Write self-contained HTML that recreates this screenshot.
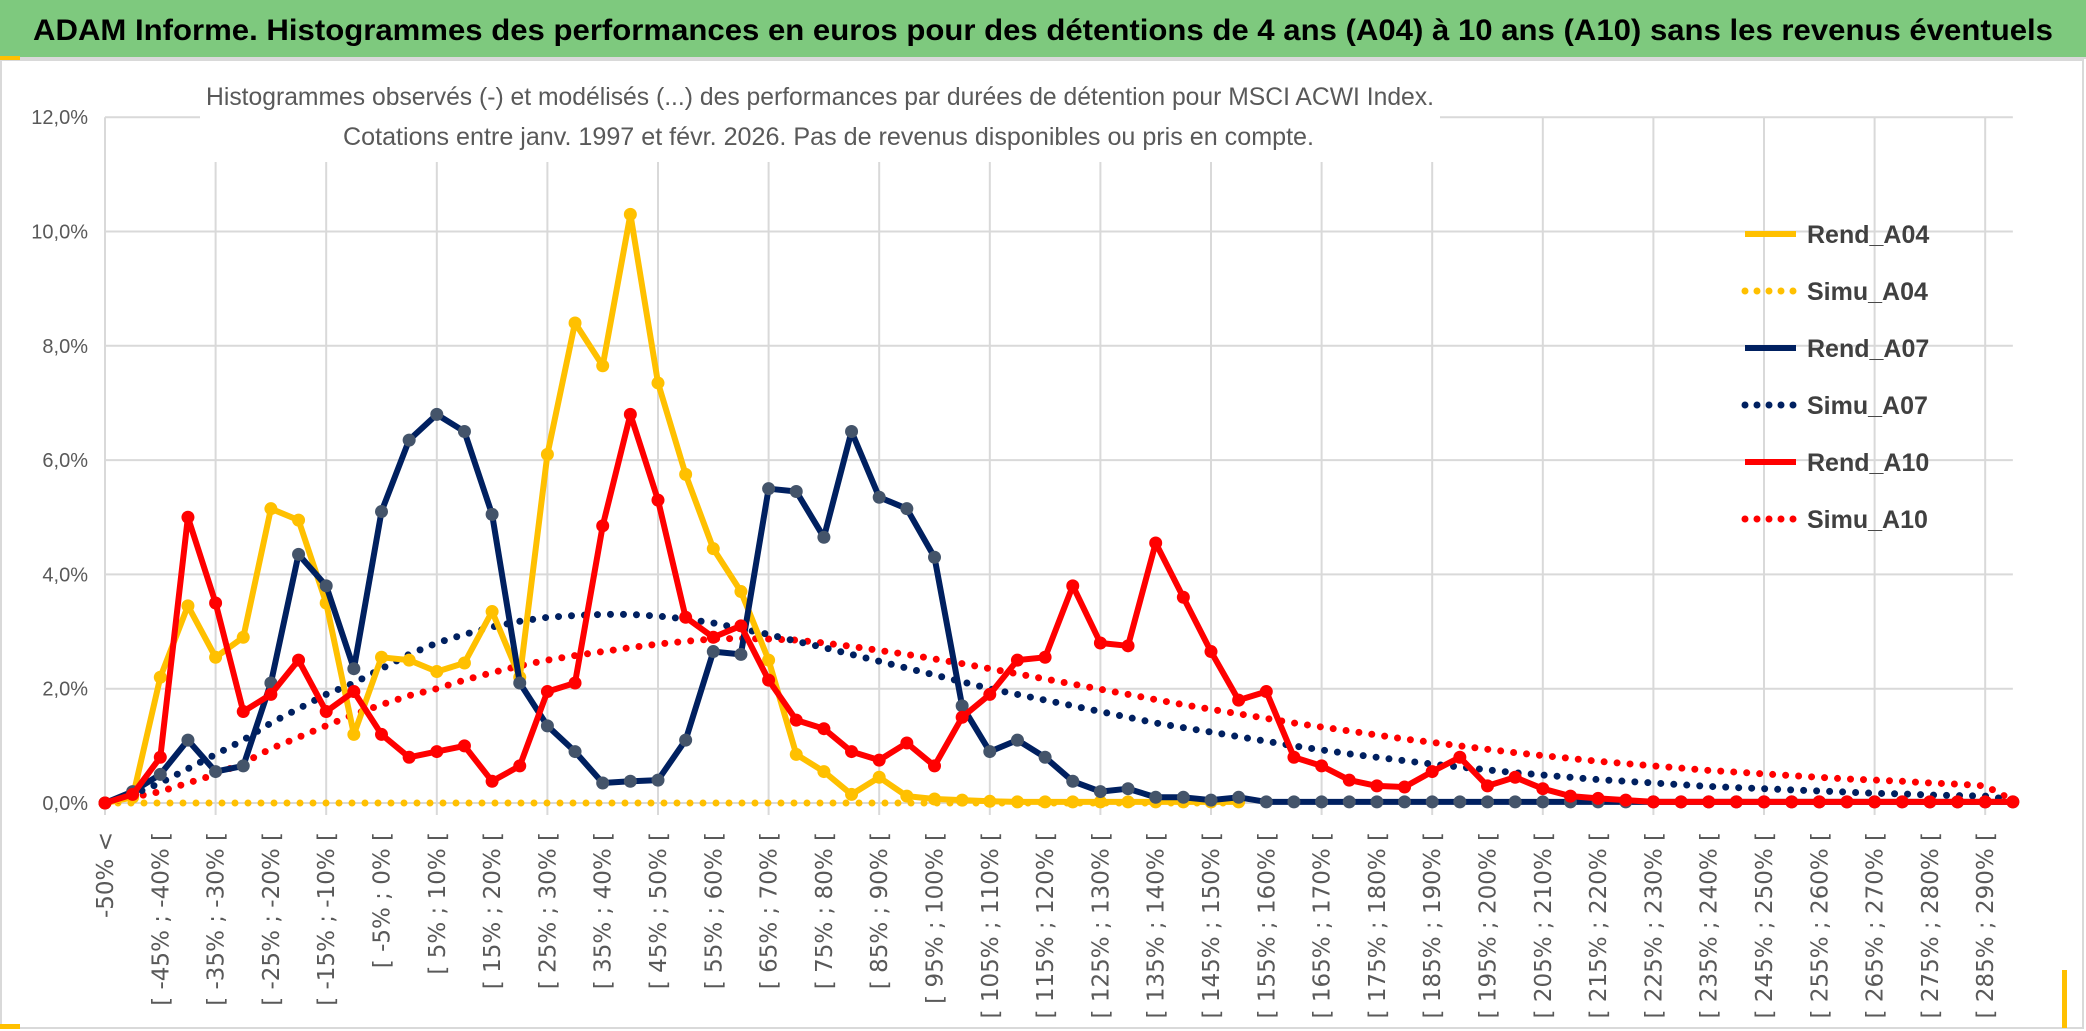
<!DOCTYPE html>
<html><head><meta charset="utf-8"><style>
html,body{margin:0;padding:0;background:#fff;}
svg{display:block;}
</style></head><body>
<svg id="chart" width="2086" height="1031" viewBox="0 0 2086 1031" xmlns="http://www.w3.org/2000/svg" font-family="'Liberation Sans Narrow','Liberation Sans',sans-serif">
<rect x="0" y="0" width="2086" height="1031" fill="#fff"/>
<rect x="0" y="0" width="2086" height="57" fill="#7ec97e"/>
<line x1="0" y1="58" x2="2086" y2="58" stroke="#d9d9d9" stroke-width="2"/>
<text x="33" y="40" font-size="30" font-weight="bold" fill="#000" textLength="2020" lengthAdjust="spacingAndGlyphs">ADAM Informe. Histogrammes des performances en euros pour des détentions de 4 ans (A04) à 10 ans (A10) sans les revenus éventuels</text>
<rect x="1" y="60" width="2082" height="968" fill="none" stroke="#d9d9d9" stroke-width="2"/>
<g id="grid"></g>
<rect x="200" y="72" width="1240" height="90" fill="#fff"/>
<text x="206" y="105" font-size="25" fill="#595959" textLength="1228" lengthAdjust="spacingAndGlyphs">Histogrammes observés (-) et modélisés (...) des performances par durées de détention pour MSCI ACWI Index.</text>
<text x="343" y="145" font-size="25" fill="#595959" textLength="971" lengthAdjust="spacingAndGlyphs">Cotations entre janv. 1997 et févr. 2026. Pas de revenus disponibles ou pris en compte.</text>
<g id="series"></g>
<g id="xlabels"></g>
<g id="legend"></g>
<rect x="0" y="56" width="20" height="4" fill="#ffc000"/>
<rect x="0" y="1024" width="20" height="5" fill="#ffc000"/>
<rect x="2062" y="970" width="5" height="58" fill="#ffc000"/>
</svg>
<script>
const yTicks = [0,2,4,6,8,10,12];
const yTickLabels = ["0,0%","2,0%","4,0%","6,0%","8,0%","10,0%","12,0%"];
const rendA04 = [0,0.1,2.2,3.45,2.55,2.9,5.15,4.95,3.5,1.2,2.55,2.5,2.3,2.45,3.35,2.2,6.1,8.4,7.65,10.3,7.35,5.75,4.45,3.7,2.5,0.85,0.55,0.15,0.45,0.12,0.07,0.05,0.03,0.02,0.02,0.02,0.02,0.02,0.02,0.02,0.02,0.02];
const simuA04 = [0,0,0,0,0,0,0,0,0,0,0,0,0,0,0,0,0,0,0,0,0,0,0,0,0,0,0,0,0,0,0,0,0,0,0,0,0,0,0,0,0,0];
const rendA07 = [0,0.2,0.5,1.1,0.55,0.65,2.1,4.35,3.8,2.35,5.1,6.35,6.8,6.5,5.05,2.1,1.35,0.9,0.35,0.38,0.4,1.1,2.65,2.6,5.5,5.45,4.65,6.5,5.35,5.15,4.3,1.7,0.9,1.1,0.8,0.38,0.2,0.25,0.1,0.1,0.05,0.1,0.02,0.02,0.02,0.02,0.02,0.02,0.02,0.02,0.02,0.02,0.02,0.02,0.02,0.02,0.02,0.02,0.02,0.02,0.02,0.02,0.02,0.02,0.02,0.02,0.02,0.02,0.02,0.02];
const simuA07 = [0,0.15,0.35,0.6,0.85,1.1,1.4,1.65,1.9,2.1,2.35,2.6,2.8,2.95,3.08,3.18,3.25,3.28,3.3,3.3,3.27,3.22,3.15,3.05,2.95,2.83,2.72,2.6,2.48,2.36,2.24,2.12,2.0,1.9,1.8,1.7,1.6,1.5,1.4,1.32,1.24,1.16,1.08,1.0,0.93,0.86,0.8,0.74,0.68,0.63,0.58,0.53,0.49,0.45,0.41,0.38,0.35,0.32,0.29,0.27,0.25,0.23,0.21,0.19,0.17,0.16,0.14,0.13,0.12,0.05];
const rendA10 = [0,0.15,0.8,5.0,3.5,1.6,1.9,2.5,1.6,1.95,1.2,0.8,0.9,1.0,0.38,0.65,1.95,2.1,4.85,6.8,5.3,3.25,2.9,3.1,2.15,1.45,1.3,0.9,0.75,1.05,0.65,1.5,1.9,2.5,2.55,3.8,2.8,2.75,4.55,3.6,2.65,1.8,1.95,0.8,0.65,0.4,0.3,0.28,0.55,0.8,0.3,0.45,0.25,0.12,0.08,0.05,0.02,0.02,0.02,0.02,0.02,0.02,0.02,0.02,0.02,0.02,0.02,0.02,0.02,0.02];
const simuA10 = [0,0.1,0.2,0.35,0.5,0.7,0.95,1.15,1.35,1.55,1.72,1.88,2.0,2.15,2.28,2.4,2.5,2.58,2.65,2.72,2.78,2.83,2.87,2.88,2.87,2.85,2.8,2.74,2.67,2.6,2.52,2.44,2.35,2.26,2.17,2.08,1.99,1.9,1.81,1.72,1.64,1.56,1.48,1.4,1.33,1.26,1.19,1.12,1.06,1.0,0.94,0.88,0.83,0.78,0.73,0.69,0.65,0.61,0.57,0.54,0.51,0.48,0.45,0.42,0.4,0.38,0.35,0.33,0.3,0.05];
const categoryCount = 70;

const NS = "http://www.w3.org/2000/svg";
const X0 = 105, DX = 27.65, Y0 = 803, PER = 57.15;
function xs(i){ return X0 + i*DX; }
function ys(v){ return Y0 - v*PER; }
function catLabel(i){
  if(i===0) return "-50% <";
  const lo = -50 + (i-1)*5;
  return "[ " + lo + "% ; " + (lo+5) + "% [";
}
function mk(tag, attrs){ const e=document.createElementNS(NS,tag); for(const k in attrs) e.setAttribute(k,attrs[k]); return e; }

const grid = document.getElementById('grid');
yTicks.forEach((t,k)=>{
  const l = mk('line',{x1:X0,x2:xs(categoryCount-1),y1:ys(t),y2:ys(t),stroke:'#d9d9d9','stroke-width':2});
  
  
  grid.appendChild(l);
  const tx = mk('text',{x:88,y:ys(t)+7,'text-anchor':'end','font-size':20,fill:'#595959'});
  tx.textContent = yTickLabels[k];
  
  
  grid.appendChild(tx);
});
for(let i=0;i<categoryCount;i+=4){
  const l = mk('line',{x1:xs(i),x2:xs(i),y1:ys(12),y2:Y0+12,stroke:'#d9d9d9','stroke-width':2});
  
  
  grid.appendChild(l);
}

const xl = document.getElementById('xlabels');
for(let i=0;i<categoryCount;i+=2){
  const t = mk('text',{transform:'translate('+(xs(i)+8)+',832) rotate(-90)','text-anchor':'end','font-size':23,fill:'#595959','font-family':"'DejaVu Sans',sans-serif"});
  t.textContent = catLabel(i);
  
  
  xl.appendChild(t);
}

const sg = document.getElementById('series');
function pts(arr){ return arr.map((v,i)=>xs(i).toFixed(1)+','+ys(v).toFixed(1)).join(' '); }
function dotted(arr,color,name){
  const p = mk('polyline',{points:pts(arr),fill:'none',stroke:color,'stroke-width':7,'stroke-linecap':'round','stroke-dasharray':'0 13'});
  
  
  sg.appendChild(p);
}
function solid(arr,color,mcolor,name){
  const g = mk('g',{});
  
  
  const p = mk('polyline',{points:pts(arr),fill:'none',stroke:color,'stroke-width':6,'stroke-linejoin':'round'});
  
  
  g.appendChild(p);
  arr.forEach((v,i)=>{
    const c = mk('circle',{cx:xs(i),cy:ys(v),r:6.5,fill:mcolor});
    
    
    g.appendChild(c);
  });
  sg.appendChild(g);
}
dotted(simuA04,'#ffc000','simu-a04-series');
dotted(simuA10,'#ff0000','simu-a10-series');
dotted(simuA07,'#002060','simu-a07-series');
solid(rendA04,'#ffc000','#ffc000','rend-a04-series');
solid(rendA07,'#002060','#44546a','rend-a07-series');
solid(rendA10,'#ff0000','#ff0000','rend-a10-series');

const legendNames = ["Rend_A04","Simu_A04","Rend_A07","Simu_A07","Rend_A10","Simu_A10"];
const legendColors = ["#ffc000","#ffc000","#002060","#002060","#ff0000","#ff0000"];
const legendDotted = [false,true,false,true,false,true];
const lg = document.getElementById('legend');
legendNames.forEach((n,k)=>{
  const y = 234 + k*57;
  const g = mk('g',{});
  
  
  const l = mk('line',{x1:1745,x2:1796,y1:y,y2:y,stroke:legendColors[k],'stroke-width':legendDotted[k]?7:6,'stroke-linecap':legendDotted[k]?'round':'butt'});
  if(legendDotted[k]) l.setAttribute('stroke-dasharray','0 12');
  
  
  g.appendChild(l);
  const t = mk('text',{x:1807,y:y+9,'font-size':25,'font-weight':'bold',fill:'#404040'});
  t.textContent = n;
  
  
  g.appendChild(t);
  lg.appendChild(g);
});
</script>
</body></html>
